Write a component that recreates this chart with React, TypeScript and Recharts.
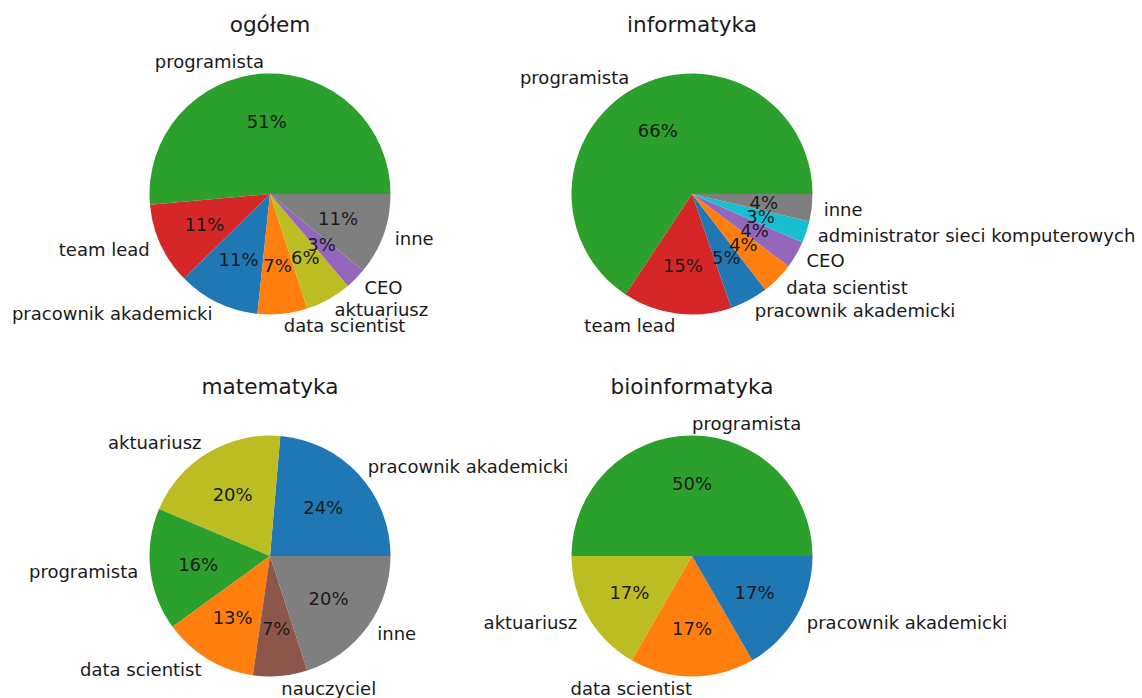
import React from "react";
import { PieChart, Pie, Cell } from "recharts";

// liczba osób w każdym zawodzie, kolejność jak na wykresach
const ogolemNames = ["programista", "team lead", "pracownik akademicki", "data scientist", "aktuariusz", "CEO", "inne"];
const ogolemCounts = [108, 23, 23, 14, 13, 6, 23];

const informatykaNames = [
  "programista",
  "team lead",
  "pracownik akademicki",
  "data scientist",
  "CEO",
  "administrator sieci komputerowych",
  "inne",
];
const informatykaCounts = [90, 20, 7, 6, 5, 4, 5];

const matematykaNames = ["pracownik akademicki", "aktuariusz", "programista", "data scientist", "nauczyciel", "inne"];
const matematykaCounts = [13, 11, 9, 7, 4, 11];

const bioinformatykaNames = ["programista", "aktuariusz", "data scientist", "pracownik akademicki"];
const bioinformatykaCounts = [3, 1, 1, 1];

const titles = ["ogółem", "informatyka", "matematyka", "bioinformatyka"];

const COLORS: Record<string, string> = {
  programista: "#2ca02c",
  "team lead": "#d62728",
  "pracownik akademicki": "#1f77b4",
  "data scientist": "#ff7f0e",
  aktuariusz: "#bcbd22",
  CEO: "#9467bd",
  inne: "#7f7f7f",
  "administrator sieci komputerowych": "#17becf",
  nauczyciel: "#8c564b",
};

const FONT = "'DejaVu Sans', sans-serif";
const RADIUS = 120.5;
const RAD = Math.PI / 180;

const toRows = (names: string[], counts: number[]) => names.map((name, i) => ({ name, value: counts[i] }));

const panels = [
  { title: titles[0], data: toRows(ogolemNames, ogolemCounts), cx: 270, cy: 194 },
  { title: titles[1], data: toRows(informatykaNames, informatykaCounts), cx: 692, cy: 194 },
  { title: titles[2], data: toRows(matematykaNames, matematykaCounts), cx: 270, cy: 556 },
  { title: titles[3], data: toRows(bioinformatykaNames, bioinformatykaCounts), cx: 692, cy: 556 },
];

function makeLabel(total: number) {
  return (props: any) => {
    const { cx, cy, midAngle, outerRadius, value, name } = props;
    const c = Math.cos(midAngle * RAD);
    const s = Math.sin(midAngle * RAD);
    const lx = cx + outerRadius * 1.1 * c;
    const ly = cy - outerRadius * 1.1 * s;
    const px = cx + outerRadius * 0.6 * c;
    const py = cy - outerRadius * 0.6 * s;
    const pct = ((value / total) * 100).toFixed(0);
    return (
      <g>
        <text
          x={lx}
          y={ly}
          textAnchor={c > 0 ? "start" : "end"}
          dominantBaseline="central"
          fontFamily={FONT}
          fontSize={18}
          fill="#1a1a1a"
        >
          {name}
        </text>
        <text
          x={px}
          y={py}
          textAnchor="middle"
          dominantBaseline="central"
          fontFamily={FONT}
          fontSize={18}
          fill="#1a1a1a"
        >
          {pct}%
        </text>
      </g>
    );
  };
}

export default function App() {
  return (
    <div style={{ position: "absolute", left: 0, top: 0, width: 1142, height: 698, background: "#fff" }}>
      <PieChart width={1142} height={698} margin={{ top: 0, right: 0, bottom: 0, left: 0 }}>
        {panels.map((p) => {
          const total = p.data.reduce((sum, d) => sum + d.value, 0);
          return (
            <Pie
              key={p.title}
              data={p.data}
              dataKey="value"
              nameKey="name"
              cx={p.cx}
              cy={p.cy}
              outerRadius={RADIUS}
              startAngle={0}
              endAngle={360}
              stroke="none"
              labelLine={false}
              label={makeLabel(total)}
              isAnimationActive={false}
            >
              {p.data.map((d) => (
                <Cell key={d.name} fill={COLORS[d.name]} />
              ))}
            </Pie>
          );
        })}
      </PieChart>
      {panels.map((p) => (
        <div
          key={p.title}
          style={{
            position: "absolute",
            left: p.cx - 150,
            top: p.cy - 180,
            width: 300,
            textAlign: "center",
            fontFamily: FONT,
            fontSize: 21.6,
            lineHeight: "21.6px",
            color: "#1a1a1a",
          }}
        >
          {p.title}
        </div>
      ))}
    </div>
  );
}
